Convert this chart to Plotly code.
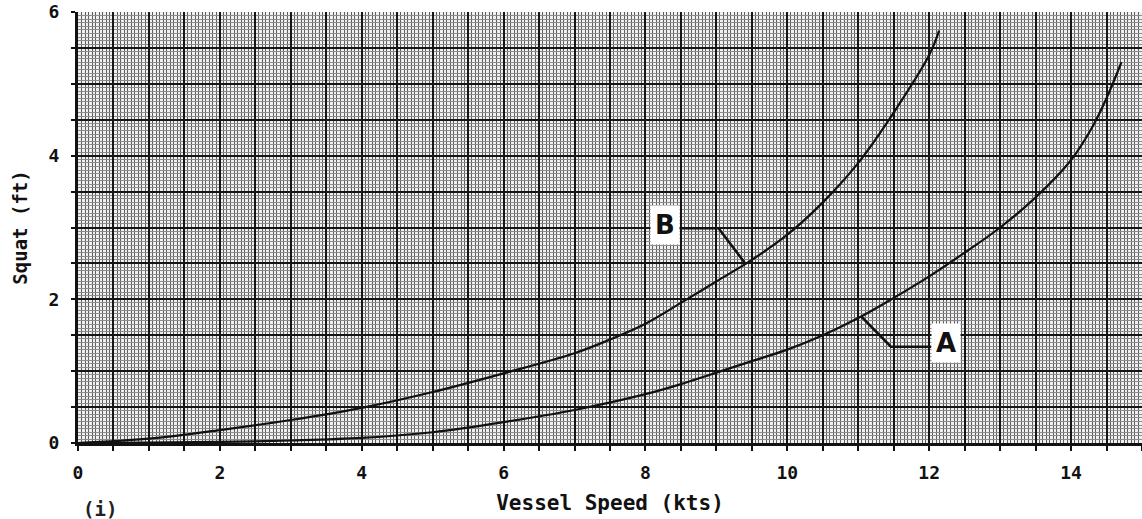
import numpy as np
import plotly.graph_objects as go

# Squat curves read against vessel speed
speed_a = [0, 1, 2, 3, 4, 5, 6, 7, 8, 8.5, 9, 9.5, 10, 10.5, 11, 11.5, 12, 12.5, 13, 13.5, 14, 14.3, 14.5, 14.71]
squat_a = [0, 0.005, 0.015, 0.035, 0.07, 0.15, 0.29, 0.46, 0.68, 0.82, 0.98, 1.14, 1.3, 1.5, 1.74, 2.02, 2.32, 2.65, 3.0, 3.42, 3.94, 4.4, 4.8, 5.3]

speed_b = [0, 1, 2, 3, 4, 5, 6, 7, 7.5, 8, 8.5, 9, 9.5, 10, 10.5, 11, 11.5, 12, 12.14]
squat_b = [0, 0.06, 0.18, 0.32, 0.49, 0.71, 0.97, 1.25, 1.44, 1.66, 1.95, 2.25, 2.55, 2.9, 3.35, 3.9, 4.6, 5.4, 5.74]

x_tick_vals = [i * 0.5 for i in range(31)]
x_tick_text = [str(int(v)) if v % 2 == 0 and v < 15 else "" for v in x_tick_vals]
y_tick_vals = [i * 0.5 for i in range(13)]
y_tick_text = [str(int(v)) if v % 2 == 0 else "" for v in y_tick_vals]

FONT = "DejaVu Sans Mono"
INK = "#111111"

fig = go.Figure()
for xs, ys in [(speed_a, squat_a), (speed_b, squat_b)]:
    fig.add_trace(go.Scatter(x=xs, y=ys, mode="lines",
                             line=dict(color=INK, width=2.2, shape="spline", smoothing=1.0),
                             showlegend=False, hoverinfo="skip"))

# leader lines from the curve labels to the curves
xb_end = 9.41
yb_end = float(np.interp(xb_end, speed_b, squat_b))
fig.add_shape(type="path", path=f"M 8.47 2.99 L 9.03 2.99 L {xb_end} {yb_end}",
              line=dict(color=INK, width=2.5), xref="x", yref="y")
xa_start = 11.04
ya_start = float(np.interp(xa_start, speed_a, squat_a))
fig.add_shape(type="path", path=f"M {xa_start} {ya_start} L 11.46 1.34 L 12.03 1.34",
              line=dict(color=INK, width=2.5), xref="x", yref="y")

fig.add_annotation(x=8.28, y=3.04, text="<b>B</b>", showarrow=False, bgcolor="white",
                   font=dict(family="DejaVu Sans", size=26, color=INK), borderpad=4)
fig.add_annotation(x=12.24, y=1.39, text="<b>A</b>", showarrow=False, bgcolor="white",
                   font=dict(family="DejaVu Sans", size=26, color=INK), borderpad=4)
fig.add_annotation(x=0.021, y=-0.153, xref="paper", yref="paper", text="<b>(i)</b>", showarrow=False,
                   font=dict(family=FONT, size=19, color="#222"), xanchor="center", yanchor="middle")

fig.update_xaxes(range=[0, 15], tickvals=x_tick_vals, ticktext=x_tick_text,
                 showgrid=True, gridcolor="#151515", gridwidth=2,
                 ticks="outside", ticklen=5, tickwidth=2, tickcolor=INK,
                 showline=True, linecolor=INK, linewidth=3,
                 tickfont=dict(family=FONT, size=18, color=INK, weight="bold"),
                 ticklabelstandoff=6,
                 minor=dict(dtick=0.05, showgrid=True, gridcolor="#5e5e5e", gridwidth=1),
                 title=dict(text="<b>Vessel Speed (kts)</b>", font=dict(family=FONT, size=21, color=INK), standoff=14),
                 zeroline=False)
fig.update_yaxes(range=[0, 6], tickvals=y_tick_vals, ticktext=y_tick_text,
                 showgrid=True, gridcolor="#151515", gridwidth=2,
                 ticks="outside", ticklen=4, tickwidth=2, tickcolor=INK,
                 showline=True, linecolor=INK, linewidth=3,
                 tickfont=dict(family=FONT, size=18, color=INK, weight="bold"),
                 ticklabelstandoff=8,
                 minor=dict(dtick=0.05, showgrid=True, gridcolor="#8c8c8c", gridwidth=1),
                 title=dict(text="<b>Squat (ft)</b>", font=dict(family=FONT, size=19, color=INK), standoff=16),
                 zeroline=False)

fig.update_layout(width=1142, height=519, margin=dict(l=78, r=0, t=12, b=76),
                  plot_bgcolor="#f0f0f0", paper_bgcolor="white")

fig.write_html("out.html")
